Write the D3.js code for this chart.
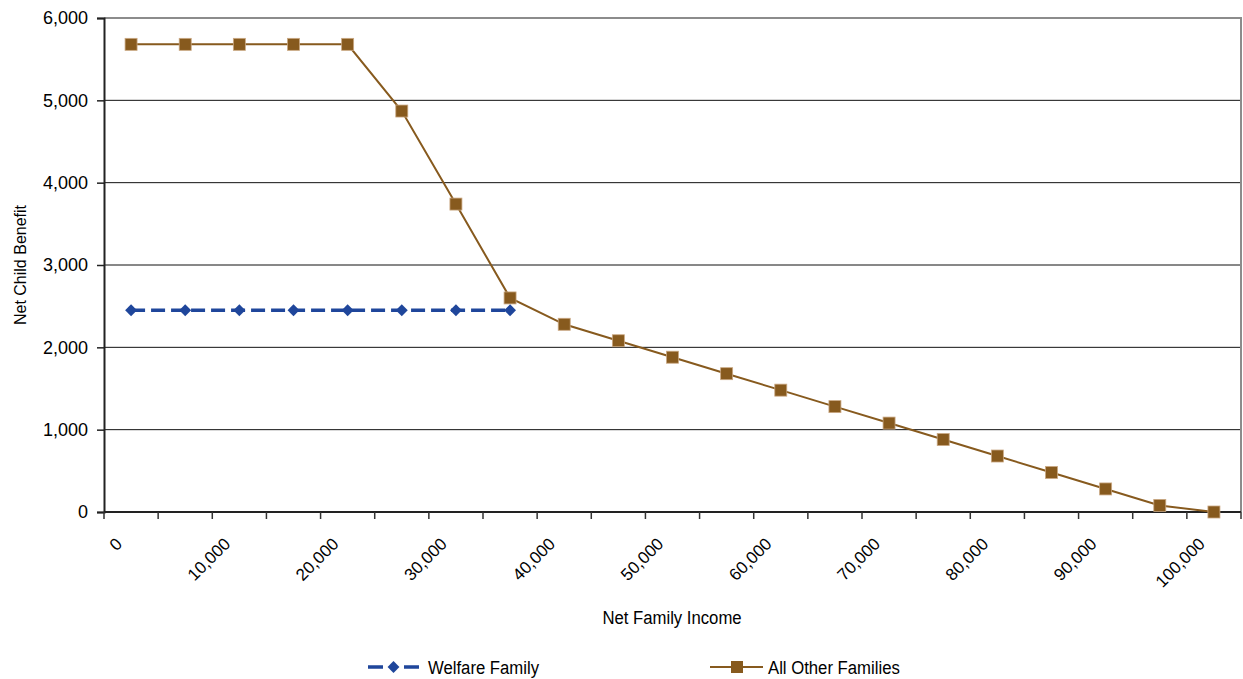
<!DOCTYPE html>
<html>
<head>
<meta charset="utf-8">
<script src="https://cdn.jsdelivr.net/npm/d3@7"></script>
<style>
  body { margin: 0; background: #fff; }
  text { font-family: "Liberation Sans", Arial, sans-serif; fill: #000; }
</style>
</head>
<body>
<script>
var incomes = [0, 5000, 10000, 15000, 20000, 25000, 30000, 35000, 40000, 45000, 50000,
               55000, 60000, 65000, 70000, 75000, 80000, 85000, 90000, 95000, 100000];
var welfare = [2450, 2450, 2450, 2450, 2450, 2450, 2450, 2450];
var others = [5680, 5680, 5680, 5680, 5680, 4870, 3740, 2600, 2280, 2080, 1880,
              1680, 1480, 1280, 1080, 880, 680, 480, 280, 80, 0];
var yTicks = [0, 1000, 2000, 3000, 4000, 5000, 6000];

var width = 1243;
var height = 679;
var plotL = 104, plotR = 1241, plotT = 18, plotB = 512;
var blue = "#1f469b";
var brown = "#875a1e";

var svg = d3.select("body")
  .append("svg")
  .attr("width", width)
  .attr("height", height);

var x = d3.scaleBand()
  .domain(incomes)
  .range([plotL, plotR]);

var y = d3.scaleLinear()
  .domain([0, 6000])
  .range([plotB, plotT]);

function cx(i) {
  return x(incomes[i]) + x.bandwidth() / 2;
}

// grid lines
svg.append("g")
  .selectAll("line")
  .data(yTicks.slice(1, -1))
  .enter()
  .append("line")
  .attr("x1", plotL)
  .attr("x2", plotR)
  .attr("y1", function(d) { return y(d); })
  .attr("y2", function(d) { return y(d); })
  .attr("stroke", "#111")
  .attr("stroke-width", 1);

// top and right border
svg.append("path")
  .attr("d", "M" + plotL + "," + plotT + "H" + plotR + "V" + plotB)
  .attr("fill", "none")
  .attr("stroke", "#8c8c8c")
  .attr("stroke-width", 2);

// y axis
var yAxis = svg.append("g")
  .attr("transform", "translate(" + plotL + ",0)")
  .call(d3.axisLeft(y).tickValues(yTicks).tickSize(7).tickPadding(9)
    .tickFormat(d3.format(",")));
yAxis.select(".domain").attr("stroke", "#222").attr("stroke-width", 2);
yAxis.selectAll(".tick line").attr("stroke", "#222").attr("stroke-width", 1.5);
yAxis.selectAll("text")
  .attr("font-size", "18px")
  .style("font-family", "'Liberation Sans', Arial, sans-serif")
  .attr("fill", "#000");

// x axis with ticks at category boundaries
var xg = svg.append("g");
xg.append("line")
  .attr("x1", plotL).attr("x2", plotR)
  .attr("y1", plotB).attr("y2", plotB)
  .attr("stroke", "#222").attr("stroke-width", 2);
var bounds = incomes.map(function(d) { return x(d); }).concat([plotR]);
xg.selectAll("line.tick")
  .data(bounds)
  .enter()
  .append("line")
  .attr("class", "tick")
  .attr("x1", function(d) { return d; })
  .attr("x2", function(d) { return d; })
  .attr("y1", plotB)
  .attr("y2", plotB + 7)
  .attr("stroke", "#333")
  .attr("stroke-width", 1.5);

xg.selectAll("text")
  .data(incomes.filter(function(d, i) { return i % 2 === 0; }))
  .enter()
  .append("text")
  .text(d3.format(","))
  .attr("font-size", "17px")
  .attr("text-anchor", "end")
  .attr("transform", function(d) {
    return "translate(" + (x(d) + x.bandwidth() / 2 - 8) + "," + (plotB + 33) + ") rotate(-45)";
  });

// lines
var line = d3.line()
  .x(function(d, i) { return cx(i); })
  .y(function(d) { return y(d); });

svg.append("path")
  .datum(others)
  .attr("d", line)
  .attr("fill", "none")
  .attr("stroke", brown)
  .attr("stroke-width", 2);

svg.append("path")
  .datum(welfare)
  .attr("d", line)
  .attr("fill", "none")
  .attr("stroke", blue)
  .attr("stroke-width", 3.5)
  .attr("stroke-dasharray", "14,6");

svg.selectAll("rect.mark")
  .data(others)
  .enter()
  .append("rect")
  .attr("class", "mark")
  .attr("x", function(d, i) { return cx(i) - 6; })
  .attr("y", function(d) { return y(d) - 6; })
  .attr("width", 12)
  .attr("height", 12)
  .attr("fill", brown)
  .attr("stroke", "#caa883")
  .attr("stroke-width", 0.8);

var diamond = d3.symbol().type(d3.symbolDiamond2).size(90);
svg.selectAll("path.dia")
  .data(welfare)
  .enter()
  .append("path")
  .attr("class", "dia")
  .attr("d", diamond)
  .attr("transform", function(d, i) {
    return "translate(" + cx(i) + "," + y(d) + ")";
  })
  .attr("fill", blue);

// condensed look for title and legend texts
function narrowText(g, str, tx, ty, anchor) {
  return g.append("text")
    .text(str)
    .attr("font-size", "19px")
    .attr("text-anchor", anchor || "start")
    .attr("transform", "translate(" + tx + "," + ty + ") scale(0.88,1)");
}

// axis titles
narrowText(svg, "Net Family Income", 672, 624, "middle");

svg.append("text")
  .text("Net Child Benefit")
  .attr("transform", "translate(26," + (plotT + plotB) / 2 + ") rotate(-90)")
  .attr("font-size", "16px")
  .attr("text-anchor", "middle");

// legend
var lg = svg.append("g");
lg.append("line")
  .attr("x1", 368).attr("x2", 419).attr("y1", 667).attr("y2", 667)
  .attr("stroke", blue).attr("stroke-width", 3.5)
  .attr("stroke-dasharray", "15,21,15");
lg.append("path")
  .attr("d", diamond)
  .attr("transform", "translate(393.5,667)")
  .attr("fill", blue);
narrowText(lg, "Welfare Family", 428, 674);

lg.append("line")
  .attr("x1", 710).attr("x2", 763).attr("y1", 667).attr("y2", 667)
  .attr("stroke", brown).attr("stroke-width", 2);
lg.append("rect")
  .attr("x", 731).attr("y", 661).attr("width", 12).attr("height", 12)
  .attr("fill", brown);
narrowText(lg, "All Other Families", 768, 674);
</script>
</body>
</html>
